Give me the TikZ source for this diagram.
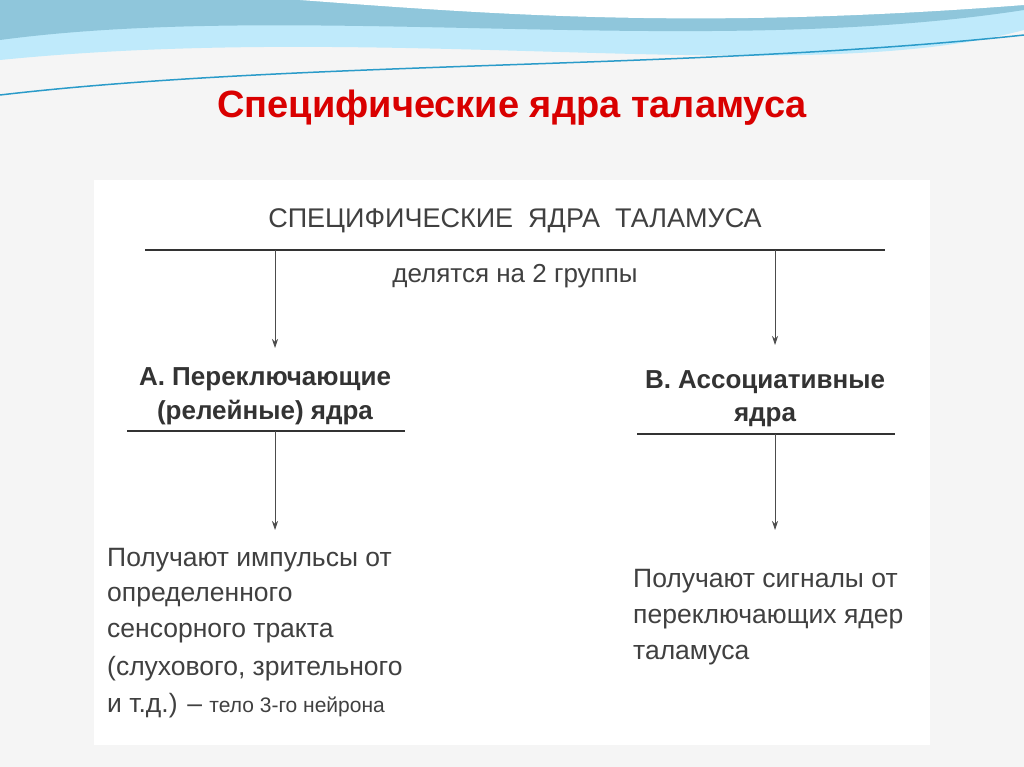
\documentclass[tikz,border=0pt]{standalone}
\usepackage{fontspec}
\usetikzlibrary{arrows.meta}
\setmainfont{Liberation Sans}
\begin{document}
\begin{tikzpicture}[x=1pt,y=-1pt,
  txt/.style={text=black!75,font=\fontsize{26.5}{28}\selectfont,inner sep=0},
  bt/.style={text=black!80,font=\bfseries\fontsize{26}{28}\selectfont,inner sep=0},
  ln/.style={black!80,line width=1.4pt},
  ar/.style={black!70,line width=0.8pt,-{Stealth[length=9pt,width=6pt]}}]
\useasboundingbox (0,0) rectangle (1024,767);
\fill[white!96!black] (0,0) rectangle (1024,767);
\fill[white] (94,180) rectangle (930,745);
% top waves
\fill[cyan!25!white] (0,0) -- (1024,0) -- (1024,30) .. controls (800,90) and (400,20) .. (0,60) -- cycle;
\fill[cyan!45!teal!50!white] (0,0) -- (1024,0) -- (1024,10) .. controls (700,60) and (300,0) .. (0,40) -- cycle;
\fill[white] (300,0) .. controls (500,15) and (700,30) .. (1024,5) -- (1024,0) -- cycle;
\draw[cyan!60!teal,line width=1.5pt] (0,95) .. controls (300,60) and (700,70) .. (1024,35);
\node[text=red!85!black,font=\bfseries\fontsize{38}{40}\selectfont] (title) at (512,108) {Специфические ядра таламуса};
\node[txt,font=\fontsize{27}{28}\selectfont] (head) at (515,221) {СПЕЦИФИЧЕСКИЕ\ \ ЯДРА\ \ ТАЛАМУСА};
\draw[ln] (145,250) -- (885,250);
\node[txt,font=\fontsize{26}{28}\selectfont] (div) at (515,276) {делятся на 2 группы};
\coordinate (a1) at (275,250); \coordinate (b1) at (775,250);
\node[bt] (A1) at (265,379) {А. Переключающие};
\node[bt] (A2) at (265,413) {(релейные) ядра};
\node[bt] (B1) at (765,382) {В. Ассоциативные};
\node[bt] (B2) at (765,417) {ядра};
\draw[ar] (a1) -- (275,348);
\draw[ar] (b1) -- (775,345);
\draw[ln] (127,431) -- (405,431);
\draw[ln] (637,434) -- (895,434);
\coordinate (a2) at (275,431); \coordinate (b2) at (775,434);
\draw[ar] (a2) -- (275,530);
\draw[ar] (b2) -- (775,530);
\node[txt,anchor=west] (L1) at (107,560) {Получают импульсы от};
\node[txt,anchor=west] (L2) at (107,597) {определенного};
\node[txt,anchor=west] (L3) at (107,633) {сенсорного тракта};
\node[txt,anchor=west] (L4) at (107,669) {(слухового, зрительного};
\node[txt,anchor=west] (L5) at (107,706) {и т.д.) – {\fontsize{21}{22}\selectfont тело 3-го нейрона}};
\node[txt,anchor=west] (R1) at (633,581) {Получают сигналы от};
\node[txt,anchor=west] (R2) at (633,619) {переключающих ядер};
\node[txt,anchor=west] (R3) at (633,655) {таламуса};
\end{tikzpicture}
\end{document}
